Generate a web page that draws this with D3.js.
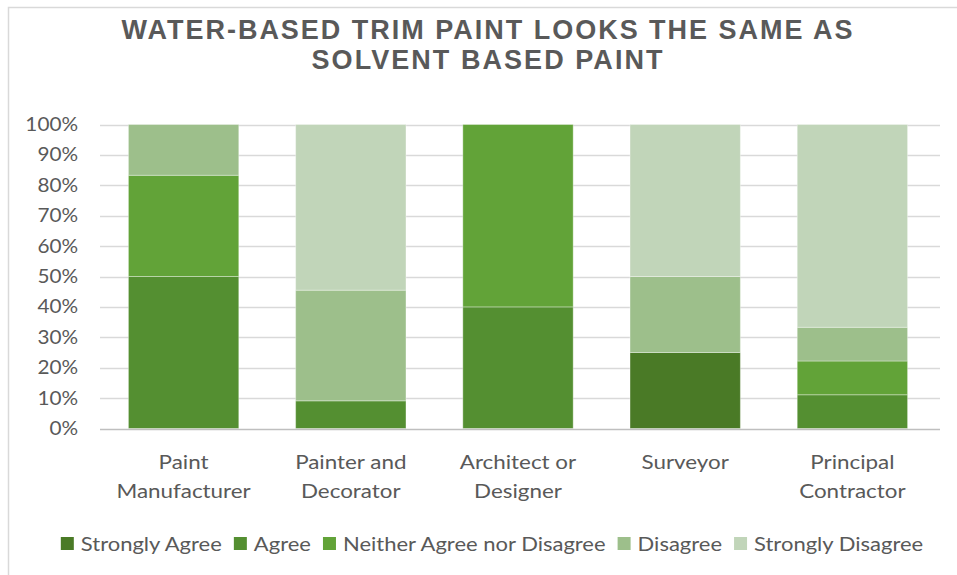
<!DOCTYPE html>
<html>
<head>
<meta charset="utf-8">
<script src="https://cdn.jsdelivr.net/npm/d3@7"></script>
<style>
  html, body { margin: 0; padding: 0; background: #fff; }
  svg { display: block; }
</style>
</head>
<body>
<svg id="chart" width="957" height="575"></svg>
<script>
// Survey responses by respondent group (percent of group)
const categories = [
  ["Paint", "Manufacturer"],
  ["Painter and", "Decorator"],
  ["Architect or", "Designer"],
  ["Surveyor"],
  ["Principal", "Contractor"]
];
const seriesNames = ["Strongly Agree", "Agree", "Neither Agree nor Disagree", "Disagree", "Strongly Disagree"];
const stronglyAgree = [0, 0, 0, 25, 0];
const agree         = [50, 9.1, 40, 0, 11.1];
const neither       = [33.3, 0, 60, 0, 11.1];
const disagree      = [16.7, 36.4, 0, 25, 11.1];
const stronglyDis   = [0, 54.5, 0, 50, 66.7];
const yTicks = [0, 10, 20, 30, 40, 50, 60, 70, 80, 90, 100];
const titleLines = ["WATER-BASED TRIM PAINT LOOKS THE SAME AS", "SOLVENT BASED PAINT"];

const colors = ["#4a7a26", "#548f31", "#62a338", "#9dbf8b", "#c1d5b9"];
const seriesValues = [stronglyAgree, agree, neither, disagree, stronglyDis];

const rows = categories.map((c, i) => {
  const r = { key: i };
  seriesNames.forEach((s, j) => r[s] = seriesValues[j][i]);
  return r;
});

const svg = d3.select("#chart");
const font = "Lato, 'Open Sans', sans-serif";
const textColor = "#595959";

// widen a text element horizontally about its anchor x
function widen(sel, ax, sx) {
  sel.attr("transform", `translate(${ax},0) scale(${sx},1) translate(${-ax},0)`);
}

// chart frame (top and left edges)
svg.append("path")
  .attr("d", "M8.5,575 L8.5,7.5 L957,7.5")
  .attr("fill", "none").attr("stroke", "#d9d9d9").attr("stroke-width", 1.5);

// title
const titleWidths = [731, 351];
svg.append("g").selectAll("text").data(titleLines).join("text")
  .attr("x", (d, i) => 487 - titleWidths[i] / 2)
  .attr("y", (d, i) => 38.5 + i * 30)
  .attr("textLength", (d, i) => titleWidths[i])
  .attr("lengthAdjust", "spacing")
  .attr("font-family", "'Liberation Sans', Arial, sans-serif")
  .attr("font-weight", "bold").attr("font-size", 27)
  .attr("fill", textColor)
  .text(d => d);

const x = d3.scaleBand().domain(d3.range(categories.length))
  .range([100, 936]).paddingInner(0.34).paddingOuter(0.17);
const y = d3.scaleLinear().domain([0, 100]).range([428.5, 124.5]);

// gridlines
svg.append("g").selectAll("line").data(yTicks.filter(t => t > 0)).join("line")
  .attr("x1", 100).attr("x2", 940)
  .attr("y1", d => Math.round(y(d)) + 0.5).attr("y2", d => Math.round(y(d)) + 0.5)
  .attr("stroke", "#d9d9d9").attr("stroke-width", 1.3);

// y axis labels
const yAxis = d3.axisLeft(y).tickValues(yTicks).tickFormat(d => d + "%").tickSize(0).tickPadding(0);
const yg = svg.append("g").attr("transform", "translate(78,0)").call(yAxis);
yg.select(".domain").remove();
yg.selectAll("text").attr("font-family", font).attr("font-size", 18.5).attr("fill", textColor)
  .call(widen, 0, 1.12);

// stacked bars
const stack = d3.stack().keys(seriesNames)(rows);
svg.append("g").selectAll("g").data(stack).join("g")
  .attr("fill", (d, i) => colors[i])
  .selectAll("rect").data(d => d).join("rect")
  .attr("x", (d, i) => x(i))
  .attr("width", x.bandwidth())
  .attr("y", d => y(d[1]))
  .attr("height", d => y(d[0]) - y(d[1]))
  .attr("stroke", "#ffffff").attr("stroke-opacity", 0.35).attr("stroke-width", 1);

// baseline
svg.append("line").attr("x1", 100).attr("x2", 940)
  .attr("y1", 429.5).attr("y2", 429.5)
  .attr("stroke", "#bfbfbf").attr("stroke-width", 1.5);

// category labels
const cg = svg.append("g").selectAll("text").data(categories).join("text")
  .attr("x", (d, i) => x(i) + x.bandwidth() / 2)
  .attr("y", 469)
  .attr("text-anchor", "middle")
  .attr("font-family", font).attr("font-size", 20).attr("fill", textColor)
  .each(function (d, i) { d3.select(this).call(widen, x(i) + x.bandwidth() / 2, 1.12); });
cg.selectAll("tspan").data(d => d).join("tspan")
  .attr("x", function () { return this.parentNode.getAttribute("x"); })
  .attr("dy", (d, i) => i === 0 ? 0 : 29)
  .text(d => d);

// legend
const legSx = 1.1;
const lg = svg.append("g");
const items = lg.selectAll("g").data(seriesNames).join("g");
items.append("rect").attr("width", 13).attr("height", 13).attr("y", -14)
  .attr("fill", (d, i) => colors[i]);
items.append("text").attr("x", 20).attr("y", 0)
  .attr("font-family", font).attr("font-size", 20).attr("fill", textColor)
  .text(d => d)
  .call(widen, 20, legSx);
let cursor = 0;
items.each(function () {
  const w = d3.select(this).select("text").node().getComputedTextLength() * legSx;
  d3.select(this).attr("transform", `translate(${cursor},0)`);
  cursor += 20 + w + 12;
});
const total = cursor - 12;
lg.attr("transform", `translate(${492 - total / 2},551)`);
</script>
</body>
</html>
